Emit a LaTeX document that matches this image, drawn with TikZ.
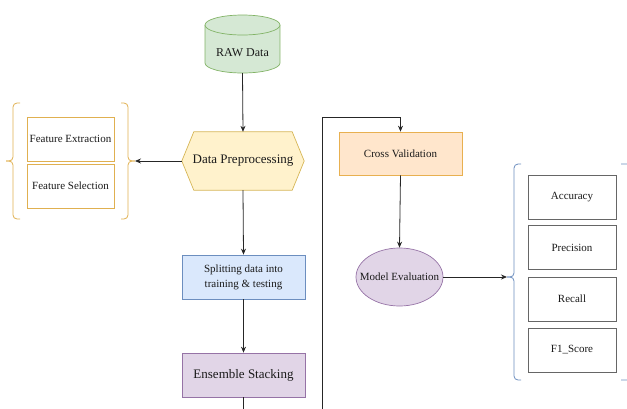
\documentclass[tikz,border=0pt]{standalone}
\usepackage{fontspec}
\setmainfont{Liberation Serif}
\newfontfamily\tnr{Liberation Serif}
\usetikzlibrary{arrows.meta,shapes.geometric}
\definecolor{rawfill}{HTML}{D5E8D4}
\definecolor{rawline}{HTML}{82B366}
\definecolor{hexfill}{HTML}{FFF2CC}
\definecolor{hexline}{HTML}{D6B656}
\definecolor{goldline}{HTML}{E0B050}
\definecolor{bluefill}{HTML}{DAE8FC}
\definecolor{blueline}{HTML}{6C8EBF}
\definecolor{purpfill}{HTML}{E1D5E7}
\definecolor{purpline}{HTML}{9673A6}
\definecolor{orfill}{HTML}{FFE6CC}
\definecolor{orline}{HTML}{E8B050}
\definecolor{greyline}{HTML}{666666}
\definecolor{txt}{HTML}{1A1A1A}
\begin{document}
\begin{tikzpicture}[x=1pt,y=-1pt,
  conn/.style={draw=black!85, line width=0.8pt},
  arr/.style={conn, -{Stealth[length=6pt,width=5pt]}},
  fs11/.style={font=\tnr\fontsize{11}{15}\selectfont, text=txt},
  fs12/.style={font=\tnr\fontsize{12}{14}\selectfont, text=txt},
  fs13/.style={font=\tnr\fontsize{13}{15}\selectfont, text=txt},
  flowbox/.style={draw, line width=0.7pt, minimum width=123pt, minimum height=44pt, inner sep=2pt, align=center},
  featbox/.style={draw=goldline, line width=0.7pt, fill=white, minimum width=87pt, minimum height=44pt, inner sep=1pt, fs11},
  metricbox/.style={draw=greyline, line width=0.6pt, fill=white, minimum width=88pt, minimum height=44pt, inner sep=1pt, fs11},
  bracegold/.style={draw=goldline, line width=0.8pt, rounded corners=4pt},
  braceblue/.style={draw=blueline, line width=0.8pt, rounded corners=4pt}]
\useasboundingbox (0,0) rectangle (627,408);

% RAW Data cylinder
\node[minimum width=75pt, minimum height=58pt, inner sep=0pt] (raw) at (242.5,44) {};
\fill[rawfill] (205,25) rectangle (280,63);
\fill[rawfill] (242.5,63) ellipse [x radius=37.5pt, y radius=10pt];
\draw[rawline, line width=0.7pt] (205,25) -- (205,63) arc[start angle=180, end angle=360, x radius=37.5pt, y radius=10pt] -- (280,25);
\draw[rawline, line width=0.7pt, fill=rawfill] (242.5,25) ellipse [x radius=37.5pt, y radius=10pt];
\node[fs12] (rawtxt) at (242.5,53) {RAW Data};

% Data preprocessing hexagon
\node[minimum width=122pt, minimum height=58pt, inner sep=0pt] (hex) at (243,161) {};
\draw[hexline, line width=0.7pt, fill=hexfill] (hex.west) -- ([xshift=12pt]hex.north west) -- ([xshift=-12pt]hex.north east) -- (hex.east) -- ([xshift=-12pt]hex.south east) -- ([xshift=12pt]hex.south west) -- cycle;
\node[fs13] (hextxt) at (hex.center) {Data Preprocessing};

% Feature boxes and brace
\node[featbox] (fe) at (70.5,139) {Feature Extraction};
\node[featbox] (fsel) at (70.5,186) {Feature Selection};
\coordinate (lbtip) at (135,161);
\path[bracegold] (20,103) -- (13,103) -- (13,161) -- (6,161);
\path[bracegold] (6,161) -- (13,161) -- (13,219) -- (20,219);
\path[bracegold] (121,103) -- (128,103) -- (128,161) -- (lbtip);
\path[bracegold] (lbtip) -- (128,161) -- (128,219) -- (121,219);

% Splitting and Ensemble
\node[flowbox, draw=blueline, fill=bluefill, fs11] (split) at (243.5,277) {Splitting data into\\training \& testing};
\node[flowbox, draw=purpline, fill=purpfill, fs13] (ens) at (243.5,375) {Ensemble Stacking};
\coordinate (ensout) at (243.5,410);

% Cross validation and model evaluation
\node[flowbox, draw=orline, fill=orfill, fs11, minimum height=43pt] (cv) at (400.5,153.5) {Cross Validation};
\node[ellipse, draw=purpline, line width=0.7pt, fill=purpfill, minimum width=87pt, minimum height=58pt, inner xsep=-10pt, inner ysep=0pt, fs11] (me) at (399.5,277) {Model Evaluation};
\coordinate (loopbot) at (322,410);
\coordinate (looptop) at (322,117);

% Metric boxes and braces
\node[metricbox] (acc) at (572,197) {Accuracy};
\node[metricbox] (prec) at (572,247.5) {Precision};
\node[metricbox] (rec) at (572,299) {Recall};
\node[metricbox] (f1) at (572,350) {F1\_Score};
\coordinate (rbtip) at (507,277);
\path[braceblue] (521,164) -- (514,164) -- (514,277) -- (rbtip);
\path[braceblue] (rbtip) -- (514,277) -- (514,380) -- (521,380);
\path[braceblue] (621,164) -- (631,164) -- (631,277) -- (638,277);
\path[braceblue] (638,277) -- (631,277) -- (631,380) -- (621,380);

% Connectors
\draw[arr] (raw.south) -- (hex.north);
\draw[arr] (hex.west) -- (lbtip);
\draw[arr] (hex.south) -- (split.north);
\draw[arr] (split.south) -- (ens.north);
\draw[conn] (ens.south) -- (ensout);
\draw[arr] (loopbot) -- (looptop) -| (cv.north);
\draw[arr] (cv.south) -- (me.north);
\draw[arr] (me.east) -- (rbtip);
\end{tikzpicture}
\end{document}
